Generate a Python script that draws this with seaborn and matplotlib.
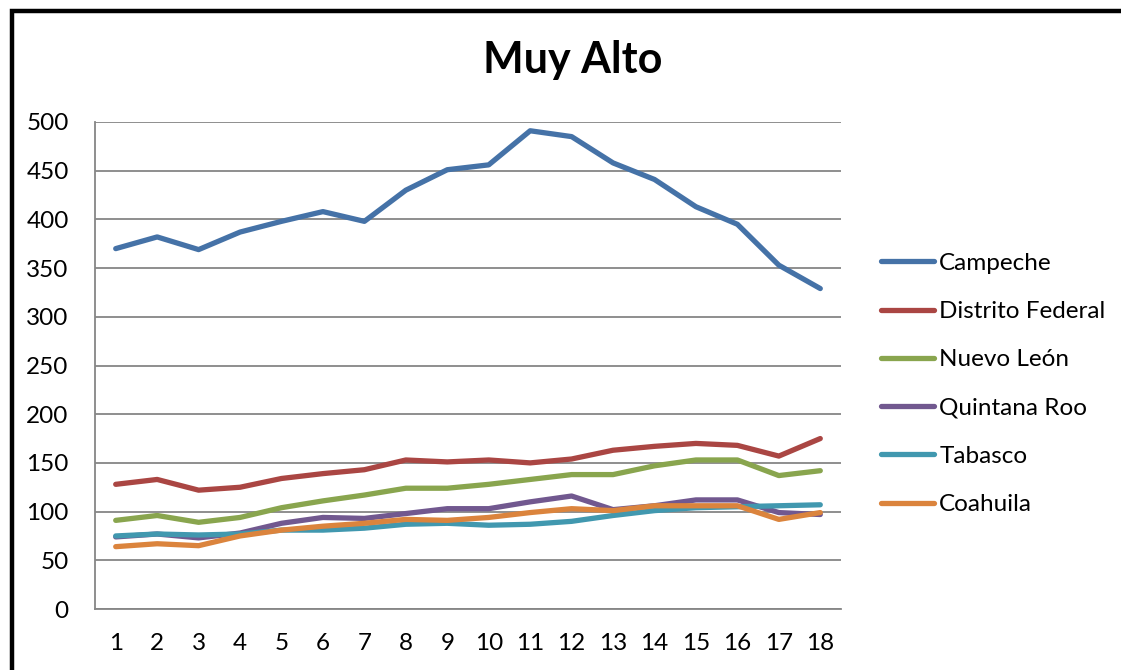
import matplotlib
import matplotlib.pyplot as plt
import pandas as pd
import seaborn as sns
from matplotlib.patches import Rectangle

matplotlib.use("Agg")

PERIODS = list(range(1, 19))

CAMPECHE = [370, 382, 369, 387, 398, 408, 398, 430, 451, 456, 491, 485, 458, 441, 413, 395, 353, 329]
DISTRITO_FEDERAL = [128, 133, 122, 125, 134, 139, 143, 153, 151, 153, 150, 154, 163, 167, 170, 168, 157, 175]
NUEVO_LEON = [91, 96, 89, 94, 104, 111, 117, 124, 124, 128, 133, 138, 138, 147, 153, 153, 137, 142]
QUINTANA_ROO = [74, 77, 73, 78, 88, 94, 93, 98, 103, 103, 110, 116, 102, 106, 112, 112, 99, 97]
TABASCO = [75, 77, 76, 77, 81, 81, 83, 87, 88, 86, 87, 90, 96, 101, 104, 105, 106, 107]
COAHUILA = [64, 67, 65, 75, 81, 85, 88, 92, 91, 94, 99, 103, 101, 106, 106, 106, 92, 99]

STATES = ["Campeche", "Distrito Federal", "Nuevo León", "Quintana Roo", "Tabasco", "Coahuila"]
COLORS = ["#4572A7", "#AA4643", "#89A54E", "#71588F", "#4198AF", "#DB843D"]

rows = []
for state, vals in zip(STATES, [CAMPECHE, DISTRITO_FEDERAL, NUEVO_LEON, QUINTANA_ROO, TABASCO, COAHUILA]):
    for p, v in zip(PERIODS, vals):
        rows.append({"periodo": p, "valor": v, "estado": state})
df = pd.DataFrame(rows)

sns.set_style("white")
plt.rcParams["font.family"] = ["Lato", "DejaVu Sans"]
plt.rcParams["text.color"] = "black"

W, H = 1121, 670
fig = plt.figure(figsize=(W / 100, H / 100), dpi=100)
ax = fig.add_axes([95 / W, 1 - 609 / H, (841 - 95) / W, (609 - 122) / H])

sns.lineplot(
    data=df, x="periodo", y="valor", hue="estado", hue_order=STATES,
    palette=COLORS, linewidth=3.8, ax=ax, legend=True,
)
for line in ax.get_lines():
    line.set_solid_capstyle("round")
    line.set_solid_joinstyle("round")

ax.set_xlim(0.5, 18.5)
ax.set_ylim(0, 500)
ax.set_xticks(PERIODS)
ax.set_yticks(range(0, 501, 50))
ax.yaxis.grid(True, color="#868686", linewidth=1.3)
ax.set_axisbelow(True)
ax.set_xlabel("")
ax.set_ylabel("")
for side in ("top", "right"):
    ax.spines[side].set_visible(False)
for side in ("left", "bottom"):
    ax.spines[side].set_color("#868686")
    ax.spines[side].set_linewidth(1.3)
ax.tick_params(axis="both", length=0, labelsize=17.5, colors="black")
ax.tick_params(axis="y", pad=19)
ax.tick_params(axis="x", pad=17)

handles, labels = ax.get_legend_handles_labels()
ax.legend_.remove()
leg = fig.legend(
    handles, labels, loc="center left",
    bbox_to_anchor=(881 / W, 1 - 384 / H),
    frameon=False, fontsize=17.5, handlelength=2.2, handletextpad=0.2,
    labelspacing=1.12, borderpad=0, borderaxespad=0, labelcolor="black",
)
for h in leg.get_lines():
    h.set_linewidth(3.8)
    h.set_solid_capstyle("round")

fig.text(573 / W, 1 - 60 / H, "Muy Alto", ha="center", va="center",
         fontsize=31, fontweight="bold", color="black")

fig.patches.append(Rectangle((12 / W, -0.1), 1.2, 1 - 11 / H + 0.1,
                             transform=fig.transFigure, fill=False,
                             edgecolor="black", linewidth=3.2))

fig.savefig("out.png", dpi=100)
